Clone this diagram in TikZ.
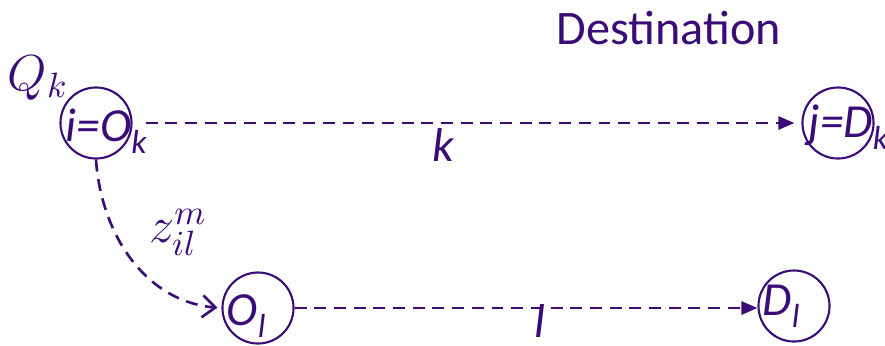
\documentclass[tikz,border=0pt]{standalone}
\usepackage{fontspec}
\setmainfont{Carlito}
\usetikzlibrary{arrows.meta,positioning}
\definecolor{ink}{RGB}{58,12,120}
\newcommand{\lowsub}[1]{\raisebox{-0.55ex}{\fontsize{9.5}{10}\selectfont #1}}

\begin{document}
\begin{tikzpicture}[
    x=0.01cm, y=-0.01cm,
    color=ink,
    site/.style={draw, circle, minimum size=0.71cm, inner sep=0pt, line width=0.6pt},
    tag/.style={font=\fontsize{13.5}{15}\selectfont\itshape, inner sep=0pt, anchor=base west},
    mathtag/.style={font=\fontsize{14.5}{16}\selectfont, inner sep=0pt},
    link/.style={dash pattern=on 3.4pt off 2.2pt, line width=0.75pt, -{Triangle[length=1.6mm,width=1.3mm]}},
    feeder/.style={dash pattern=on 3.4pt off 2.2pt, line width=0.75pt, -{Straight Barb[length=1.3mm,width=2.2mm]}}
]
\useasboundingbox (0,0) rectangle (885,345);
% stations
\node[site] (ok) at (96,123) {};
\node[site] (dk) at (838,123) {};
\node[site] (ol) at (258,308) {};
\node[site] (dl) at (794,306) {};
\node[tag] (okt) at (65,141) {i=O\lowsub{k}};
\node[tag] (dkt) at (808,137) {j=D\lowsub{k}};
\node[tag] (olt) at (226,325) {O\lowsub{l}};
\node[tag] (dlt) at (762,315) {D\lowsub{l}};
% labels
\node[font=\fontsize{13.7}{15}\selectfont, inner sep=0pt] (dest) at (669,28) {Destination};
\node[mathtag] (qk) at (38,78) {$Q_k$};
\node[mathtag] (zil) at (178,232) {$z_{il}^{m}$};
\node[tag, anchor=center] (klab) at (443,145) {k};
\node[tag, anchor=center] (llab) at (540,321) {l};
% flows
\draw[link, shorten <=0.13cm, shorten >=0.07cm] (ok.east) -- (dk.west);
\draw[link] (ol.east) -- (ol.east -| dl.west);
\draw[feeder, shorten >=0.04cm] (ok.south) to[out=-86, in=175] (ol.west);
\end{tikzpicture}
\end{document}
